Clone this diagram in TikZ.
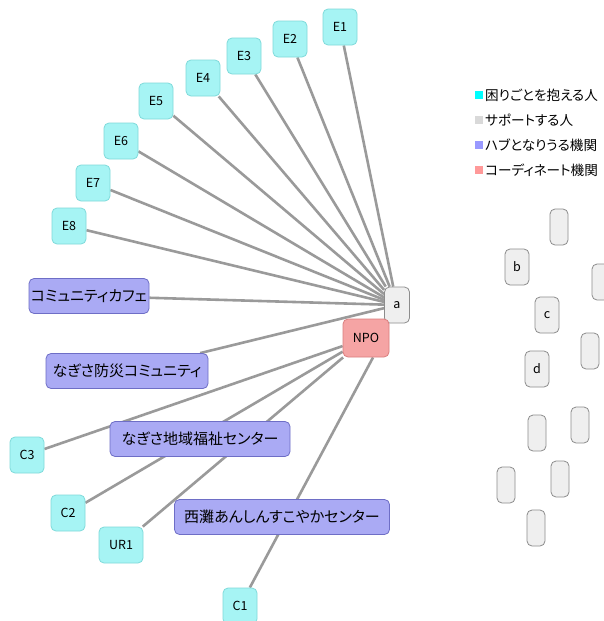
\documentclass[tikz,border=0pt]{standalone}
\usepackage{fontspec}
\setmainfont{Noto Sans CJK JP}[RawFeature={+palt}]
\usetikzlibrary{backgrounds}
\definecolor{cyfill}{HTML}{A6F4F4}
\definecolor{cyline}{HTML}{7FDADA}
\definecolor{grfill}{HTML}{EFEFEF}
\definecolor{grline}{HTML}{8C8C8C}
\definecolor{pufill}{HTML}{AAAAF4}
\definecolor{puline}{HTML}{6E6EC6}
\definecolor{npfill}{HTML}{F5A4A4}
\definecolor{npline}{HTML}{DA7E7E}
\definecolor{edgec}{HTML}{9A9A9A}
\definecolor{lgcy}{HTML}{00FFFF}
\definecolor{lggr}{HTML}{D9D9D9}
\definecolor{lgpu}{HTML}{9999FF}
\definecolor{lgnp}{HTML}{FF9999}
\tikzset{
  base/.style={draw, rounded corners=5pt, line width=0.8pt, inner sep=0pt, minimum height=36pt, font=\fontsize{12.5}{14}\selectfont},
  cy/.style={base, fill=cyfill, draw=cyline, minimum width=34pt},
  gr/.style={base, fill=grfill, draw=grline, minimum width=18pt},
  grl/.style={gr, minimum width=24pt},
  pu/.style={base, fill=pufill, draw=puline, minimum height=35pt, font=\fontsize{15}{17}\selectfont},
  np/.style={base, fill=npfill, draw=npline, minimum width=46pt, minimum height=38pt},
  edge/.style={draw=edgec, line width=2.6pt},
  lgbox/.style={minimum size=8.5pt, inner sep=0pt},
  lgtext/.style={anchor=west, inner sep=0pt, font=\fontsize{13.6}{15}\selectfont},
}
\begin{document}
\begin{tikzpicture}[x=1pt,y=-1pt]
\useasboundingbox (0,0) rectangle (603,621);
% cyan nodes
\node[cy] (E1) at (340,27) {E1};
\node[cy] (E2) at (290,39) {E2};
\node[cy] (E3) at (244,56) {E3};
\node[cy] (E4) at (203,78) {E4};
\node[cy] (E5) at (156,101) {E5};
\node[cy] (E6) at (121,141) {E6};
\node[cy] (E7) at (93,183) {E7};
\node[cy] (E8) at (69,226) {E8};
\node[cy] (C3) at (27,455) {C3};
\node[cy] (C2) at (68,513) {C2};
\node[cy, minimum width=44pt] (UR1) at (121,545) {UR1};
\node[cy] (C1) at (240,606) {C1};
% central
\node[gr, minimum width=25pt] (a) at (397,305) {a};
\node[np] (NPO) at (366,338) {NPO};
% hubs
\node[pu, minimum width=120pt] (cafe) at (89,296) {コミュニティカフェ};
\node[pu, minimum width=162pt] (bousai) at (127,371) {なぎさ防災コミュニティ};
\node[pu, minimum width=180pt] (fukushi) at (200,439) {なぎさ地域福祉センター};
\node[pu, minimum width=215pt] (nishinada) at (282,517) {西灘あんしんすこやかセンター};
% grey nodes right
\node[gr] (g1) at (559,227) {};
\node[grl] (b) at (517,267) {b};
\node[gr] (g3) at (601,282) {};
\node[grl] (c) at (547,315) {c};
\node[gr] (g5) at (590,351) {};
\node[grl] (d) at (537,369) {d};
\node[gr] (g7) at (580,425) {};
\node[gr] (g8) at (537,433) {};
\node[gr] (g9) at (560,479) {};
\node[gr] (g10) at (506,485) {};
\node[gr] (g11) at (536,528) {};
% legend
\node[lgbox, fill=lgcy] (l1) at (479,95) {};
\node[lgtext] (t1) at (485,95) {困りごとを抱える人};
\node[lgbox, fill=lggr] (l2) at (479,120) {};
\node[lgtext] (t2) at (485,120) {サポートする人};
\node[lgbox, fill=lgpu] (l3) at (479,145) {};
\node[lgtext] (t3) at (485,145) {ハブとなりうる機関};
\node[lgbox, fill=lgnp] (l4) at (479,170) {};
\node[lgtext] (t4) at (485,170) {コーディネート機関};
% edges
\begin{scope}[on background layer]
\fill[white] (0,0) rectangle (603,621);
\foreach \n in {E1,E2,E3,E4,E5,E6,E7,E8,cafe,bousai}
  \draw[edge] (\n) -- (a);
\foreach \n in {C3,C2,UR1}
  \draw[edge] (\n) -- (NPO);
\draw[edge] (C1) -- (NPO.-70);
\end{scope}
\end{tikzpicture}
\end{document}
